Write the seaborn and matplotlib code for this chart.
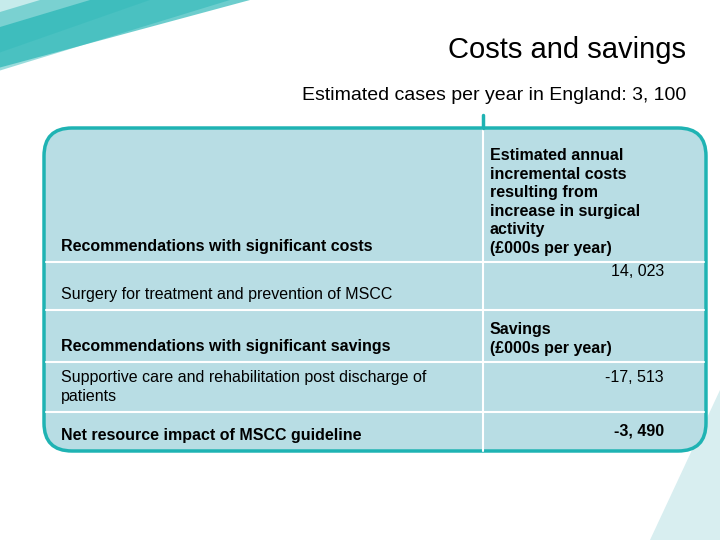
import seaborn as sns
import matplotlib.pyplot as plt
from matplotlib.patches import FancyBboxPatch, Polygon

sns.set_style("white")
plt.rcParams['font.family'] = ['Liberation Sans', 'DejaVu Sans']

title = "Costs and savings"
subtitle = "Estimated cases per year in England: 3, 100"
row_labels = ["Recommendations with significant costs",
              "Surgery for treatment and prevention of MSCC",
              "Recommendations with significant savings",
              "Supportive care and rehabilitation post discharge of\npatients",
              "Net resource impact of MSCC guideline"]
row_values = ["Estimated annual\nincremental costs\nresulting from\nincrease in surgical\nactivity\n(£000s per year)",
              "14, 023",
              "Savings\n(£000s per year)",
              "-17, 513",
              "-3, 490"]
row_bold = [True, False, True, False, True]
row_is_header = [True, False, True, False, False]

teal = "#1fb3b3"
fill = "#b8dde4"

fig = plt.figure(figsize=(7.2, 5.4), dpi=100)
ax = fig.add_axes([0, 0, 1, 1])
ax.set_xlim(0, 720)
ax.set_ylim(540, 0)
ax.axis("off")

# decorative teal stripes top-left
for i, (a, b) in enumerate([(0, 150), (40, 230), (90, 250)]):
    ax.add_patch(Polygon([(a, 0), (b, 0), (0, b * 0.35 - i * 10), (0, a * 0.3)],
                         closed=True, color=teal, alpha=0.25 + 0.2 * i, lw=0))
ax.add_patch(Polygon([(650, 540), (720, 390), (720, 540)], closed=True,
                     color="#d8eef0", lw=0))

ax.text(686, 50, title, ha="right", va="center", fontsize=21, color="black")
ax.text(686, 95, subtitle, ha="right", va="center", fontsize=14, color="black")

box = FancyBboxPatch((44, 128), 662, 323, boxstyle="round,pad=0,rounding_size=28",
                     fc=fill, ec=teal, lw=2.5)
ax.add_patch(box)

bounds = [128, 262, 310, 362, 412, 451]
for y in bounds[1:-1]:
    ax.plot([46, 704], [y, y], color="white", lw=1.5)
ax.plot([483, 483], [128, 451], color="white", lw=1.5)
ax.plot([483, 483], [115, 128], color=teal, lw=2.5)

value_y = [None, 272, None, 377, 431]
for i, (lab, val) in enumerate(zip(row_labels, row_values)):
    top, bot = bounds[i], bounds[i + 1]
    w = "bold" if row_bold[i] else "normal"
    ax.text(61, bot - 8, lab, ha="left", va="bottom", fontsize=11.5, weight=w,
            linespacing=1.3, color="black")
    if row_is_header[i]:
        ax.text(490, bot - 6, val, ha="left", va="bottom", fontsize=11.5,
                weight="bold", linespacing=1.3, color="black")
    else:
        ax.text(664, value_y[i], val, ha="right", va="center",
                fontsize=11.5, weight=w, color="black")

fig.savefig("out.png", dpi=100)
